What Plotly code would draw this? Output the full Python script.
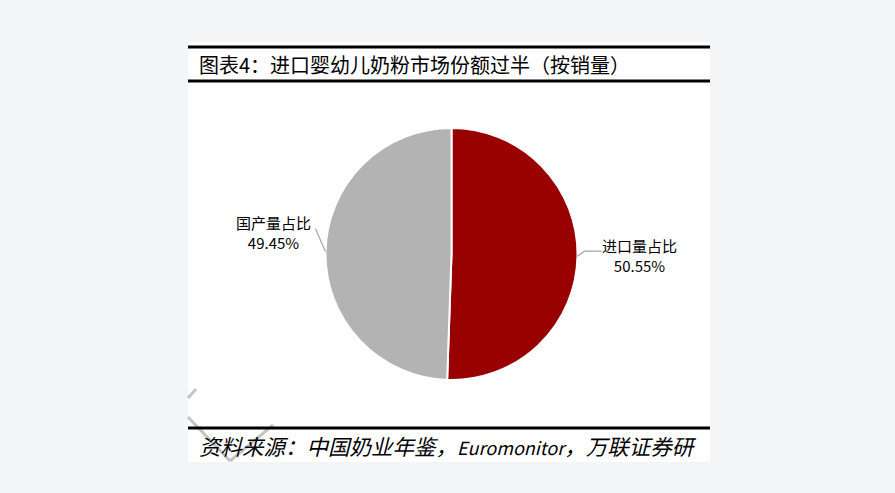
import math
import plotly.graph_objects as go

# 数据
labels = ['进口量占比', '国产量占比']
shares = [50.55, 49.45]
colors = ['#990000', '#b3b3b3']

title_text = '图表4：进口婴幼儿奶粉市场份额过半（按销量）'
source_text = ('<i>资料来源：中国奶业年鉴，<span style="font-size:18px">Euromonitor</span>'
               '，万联证券研</i>')

W, H = 895, 493
FONT = 'Noto Sans CJK SC'
BG = '#f4f5f7'


def px(x):
    return x / W


def py(y):
    return 1 - y / H


# 饼图位置（像素）
cx, cy, r = 451.5, 254, 126

fig = go.Figure()
fig.add_trace(go.Pie(
    labels=labels,
    values=shares,
    sort=False,
    direction='clockwise',
    rotation=0,
    marker=dict(colors=colors, line=dict(color='white', width=2)),
    textinfo='none',
    domain=dict(x=[px(cx - r), px(cx + r)], y=[py(cy + r), py(cy - r)]),
    showlegend=False,
))

shapes = [
    # 白色卡片
    dict(type='rect', xref='paper', yref='paper', x0=px(188), x1=px(710), y0=py(462), y1=py(42),
         fillcolor='white', line=dict(width=0), layer='below'),
    # 水印残线
    dict(type='line', xref='paper', yref='paper', x0=px(188), y0=py(398), x1=px(196), y1=py(389),
         line=dict(color='#c4c4c4', width=3), layer='below'),
    dict(type='line', xref='paper', yref='paper', x0=px(188), y0=py(417), x1=px(230), y1=py(461),
         line=dict(color='#c4c4c4', width=3), layer='below'),
    dict(type='line', xref='paper', yref='paper', x0=px(273), y0=py(425), x1=px(230), y1=py(461),
         line=dict(color='#c4c4c4', width=3), layer='below'),
    # 标题与脚注线
    dict(type='line', xref='paper', yref='paper', x0=px(188), x1=px(710), y0=py(47), y1=py(47),
         line=dict(color='black', width=3)),
    dict(type='line', xref='paper', yref='paper', x0=px(188), x1=px(710), y0=py(81), y1=py(81),
         line=dict(color='black', width=3)),
    dict(type='line', xref='paper', yref='paper', x0=px(188), x1=px(710), y0=py(428), y1=py(428),
         line=dict(color='black', width=3)),
]

annotations = [
    dict(text=title_text, xref='paper', yref='paper', x=px(197), y=py(64), xanchor='left',
         yanchor='middle', showarrow=False, font=dict(family=FONT, size=20, color='black')),
    dict(text=source_text, xref='paper', yref='paper', x=px(197), y=py(445), xanchor='left',
         yanchor='middle', showarrow=False,
         font=dict(family=FONT, size=21.5, color='black')),
]

# 标签和引导线，由扇区中心角计算
label_style = [
    dict(elbow=(7, -5), end=(17, 0), text=(639, 255.5)),
    dict(elbow=(-10, -23), end=None, text=(273, 233)),
]
total = sum(shares)
cum = 0
for name, val, st in zip(labels, shares, label_style):
    mid = 90 - 360 * (cum + val / 2) / total
    cum += val
    ax = cx + r * math.cos(math.radians(mid))
    ay = cy - r * math.sin(math.radians(mid))
    ex, ey = ax + st['elbow'][0], ay + st['elbow'][1]
    path = f'M {px(ax)} {py(ay)} L {px(ex)} {py(ey)}'
    if st['end'] is not None:
        path += f' L {px(ex + st["end"][0])} {py(ey + st["end"][1])}'
    shapes.append(dict(type='path', xref='paper', yref='paper', path=path,
                       line=dict(color='#a6a6a6', width=1.2)))
    annotations.append(dict(
        text=f'{name}<br>{val:.2f}%', xref='paper', yref='paper',
        x=px(st['text'][0]), y=py(st['text'][1]), xanchor='center', yanchor='middle',
        showarrow=False, align='center', font=dict(family=FONT, size=15, color='black'),
    ))

fig.update_layout(
    width=W, height=H,
    margin=dict(l=0, r=0, t=0, b=0),
    paper_bgcolor=BG,
    plot_bgcolor=BG,
    shapes=shapes,
    annotations=annotations,
)

fig.write_html('out.html', config=dict(displayModeBar=False),
               post_script=f"document.body.style.margin='0';document.body.style.background='{BG}';")
